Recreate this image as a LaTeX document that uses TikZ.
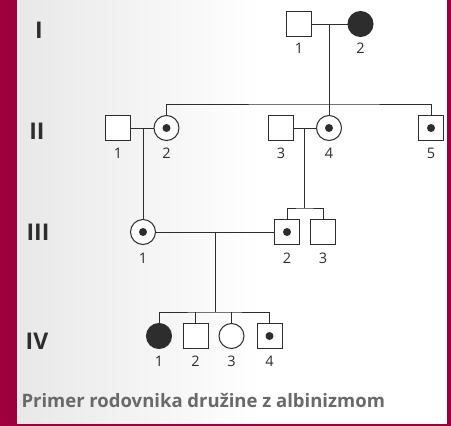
\documentclass[tikz,border=0pt]{standalone}
\usepackage{fontspec}
\setmainfont{Open Sans}
\definecolor{maroon}{RGB}{158,0,62}
\definecolor{ink}{RGB}{45,45,45}
\definecolor{captiongray}{RGB}{105,105,105}
\begin{document}
\begin{tikzpicture}[x=1pt,y=-1pt,
  every path/.style={line width=1pt},
  male/.style={draw=ink, fill=white, rectangle, minimum size=25pt, inner sep=0pt},
  female/.style={draw=ink, fill=white, circle, minimum size=25pt, inner sep=0pt},
  affected/.style={fill=ink},
  carrier/.style={path picture={\fill[ink] (path picture bounding box.center) circle (4pt);}},
  lnk/.style={draw=ink, line width=1pt},
  num/.style={font=\fontsize{14.5}{14.5}\selectfont, text=ink, inner sep=0pt},
  gen/.style={font=\fontsize{23}{23}\selectfont\bfseries, text=ink, inner sep=0pt}
]
\useasboundingbox (0,0) rectangle (451,426);
% background
\fill[white] (0,0) rectangle (451,426);
\shade[left color=black!9, right color=white] (17,0) rectangle (260,424);
\fill[maroon] (0,0) rectangle (17,426);
\fill[maroon] (447,0) rectangle (451,426);
\fill[maroon] (0,424) rectangle (451,426);

% generation labels
\node[gen] (gI) at (39,30) {I};
\node[gen] (gII) at (37,131) {II};
\node[gen] (gIII) at (38,232) {III};
\node[gen] (gIV) at (37,341) {IV};

% Generation I
\node[male] (I1) at (299,24) {};
\node[female,affected] (I2) at (360.5,24) {};
% Generation II
\node[male] (II1) at (118,128) {};
\node[female,carrier] (II2) at (166.5,128) {};
\node[male] (II3) at (281,128) {};
\node[female,carrier] (II4) at (329,128) {};
\node[male,carrier] (II5) at (431,128) {};
% Generation III
\node[female,carrier] (III1) at (143,232) {};
\node[male,carrier] (III2) at (287,232) {};
\node[male] (III3) at (323,232) {};
% Generation IV
\node[female,affected] (IV1) at (159,336) {};
\node[male] (IV2) at (195.5,336) {};
\node[female] (IV3) at (231.5,336) {};
\node[male,carrier] (IV4) at (269.5,336) {};

% numbers
\node[num] (nI1) at (299,48) {1};
\node[num] (nI2) at (360.5,48) {2};
\node[num] (nII1) at (118,153) {1};
\node[num] (nII2) at (166.5,153) {2};
\node[num] (nII3) at (281,153) {3};
\node[num] (nII4) at (329,153) {4};
\node[num] (nII5) at (431,153) {5};
\node[num] (nIII1) at (143,258) {1};
\node[num] (nIII2) at (287,258) {2};
\node[num] (nIII3) at (323,258) {3};
\node[num] (nIV1) at (159,361) {1};
\node[num] (nIV2) at (195.5,361) {2};
\node[num] (nIV3) at (231.5,361) {3};
\node[num] (nIV4) at (269.5,361) {4};

% junction coordinates
\coordinate (mI) at (329,24);
\coordinate (sII) at (329,104);
\coordinate (mII12) at (143,128);
\coordinate (mII34) at (304,128);
\coordinate (sIII) at (304,208);
\coordinate (mIII) at (215,232);
\coordinate (sIV) at (215,312);

% Gen I mating and sibship
\draw[lnk] (I1.east) -- (I2.west);
\draw[lnk] (mI) -- (sII);
\draw[lnk] (II2.north) |- (sII) -| (II5.north);
\draw[lnk] (sII) -- (II4.north);
% Gen II matings
\draw[lnk] (II1.east) -- (II2.west);
\draw[lnk] (mII12) -- (III1.north);
\draw[lnk] (II3.east) -- (II4.west);
\draw[lnk] (mII34) -- (sIII);
\draw[lnk] (III2.north) |- (sIII) -| (III3.north);
% Gen III mating
\draw[lnk] (III1.east) -- (III2.west);
\draw[lnk] (mIII) -- (sIV);
\draw[lnk] (IV1.north) |- (sIV) -| (IV4.north);
\draw[lnk] (IV2.north) -- (IV2.north |- sIV);
\draw[lnk] (IV3.north) -- (IV3.north |- sIV);

% caption
\node[anchor=west, inner sep=0pt, text=captiongray, font=\fontsize{18.5}{18.5}\selectfont\bfseries] (cap) at (21,401) {Primer rodovnika družine z albinizmom};
\end{tikzpicture}
\end{document}
